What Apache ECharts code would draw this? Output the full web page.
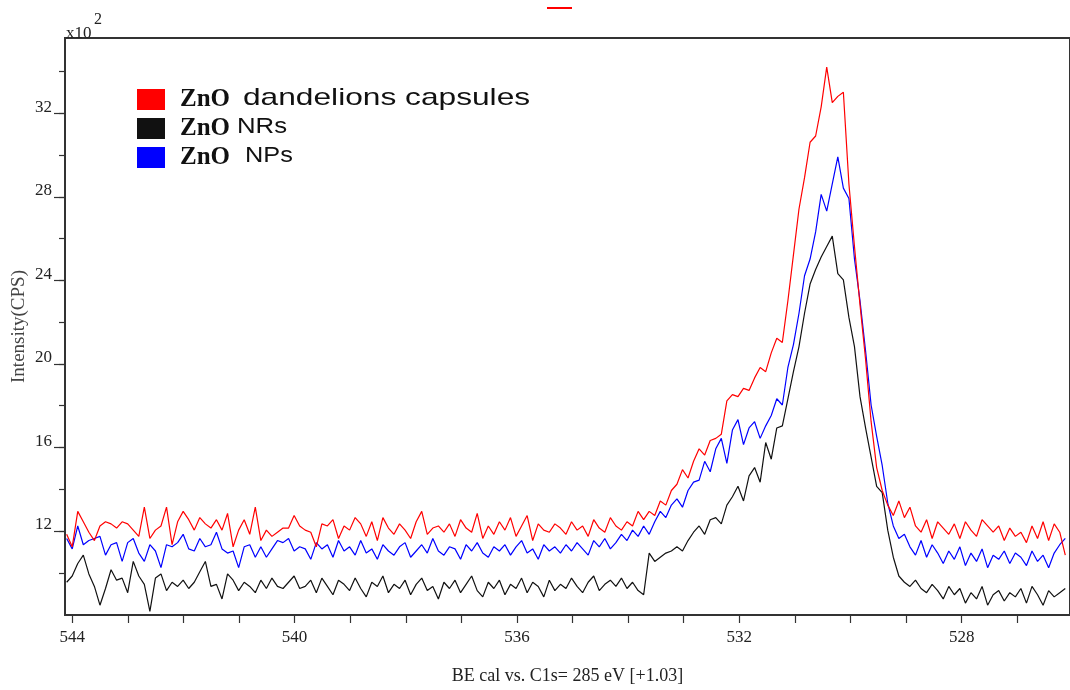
<!DOCTYPE html>
<html>
<head>
<meta charset="utf-8">
<script src="https://cdn.jsdelivr.net/npm/echarts@6/dist/echarts.min.js"></script>
<style>
html,body{margin:0;padding:0;background:#fff;}
#chart{width:1070px;height:690px;}
</style>
</head>
<body>
<div id="chart"></div>
<script>
// Binding energy grid (eV), 0.1 eV steps
const energies = [
544.1,544.0,543.9,543.8,543.7,543.6,543.5,543.4,543.3,543.2,
543.1,543.0,542.9,542.8,542.7,542.6,542.5,542.4,542.3,542.2,
542.1,542.0,541.9,541.8,541.7,541.6,541.5,541.4,541.3,541.2,
541.1,541.0,540.9,540.8,540.7,540.6,540.5,540.4,540.3,540.2,
540.1,540.0,539.9,539.8,539.7,539.6,539.5,539.4,539.3,539.2,
539.1,539.0,538.9,538.8,538.7,538.6,538.5,538.4,538.3,538.2,
538.1,538.0,537.9,537.8,537.7,537.6,537.5,537.4,537.3,537.2,
537.1,537.0,536.9,536.8,536.7,536.6,536.5,536.4,536.3,536.2,
536.1,536.0,535.9,535.8,535.7,535.6,535.5,535.4,535.3,535.2,
535.1,535.0,534.9,534.8,534.7,534.6,534.5,534.4,534.3,534.2,
534.1,534.0,533.9,533.8,533.7,533.6,533.5,533.4,533.3,533.2,
533.1,533.0,532.9,532.8,532.7,532.6,532.5,532.4,532.3,532.2,
532.1,532.0,531.9,531.8,531.7,531.6,531.5,531.4,531.3,531.2,
531.1,531.0,530.9,530.8,530.7,530.6,530.5,530.4,530.3,530.2,
530.1,530.0,529.9,529.8,529.7,529.6,529.5,529.4,529.3,529.2,
529.1,529.0,528.9,528.8,528.7,528.6,528.5,528.4,528.3,528.2,
528.1,528.0,527.9,527.8,527.7,527.6,527.5,527.4,527.3,527.2,
527.1,527.0,526.9,526.8,526.7,526.6,526.5,526.4,526.3,526.2,
526.1];

// Intensity (x10^2 CPS)
const dandelions = [
11.8,11.2,12.9,12.4,11.9,11.5,12.2,12.4,12.3,12.1,
12.4,12.3,12.0,11.7,13.1,11.6,12.0,12.2,13.1,11.3,
12.4,12.9,12.5,12.0,12.6,12.3,12.1,12.5,12.0,12.8,
11.2,12.0,12.5,11.8,13.1,11.5,12.0,11.7,11.9,12.1,
12.1,12.7,12.2,12.0,11.9,11.2,12.3,12.2,12.5,11.6,
12.2,12.0,12.6,12.3,11.7,12.4,11.5,12.6,12.1,11.8,
12.3,12.0,11.6,12.4,12.9,11.8,12.1,12.2,11.9,12.3,
11.7,12.5,12.1,11.9,12.8,11.6,12.2,11.8,12.4,12.0,
12.6,11.7,12.2,12.7,11.5,12.3,12.0,11.9,12.3,12.1,
11.8,12.4,12.0,12.2,11.7,12.5,12.1,11.9,12.6,12.2,
12.0,12.4,12.2,12.9,12.5,12.9,12.7,13.4,13.2,13.9,
14.2,14.9,14.5,15.3,15.9,15.6,16.3,16.4,16.6,18.2,
18.5,18.4,18.8,18.7,19.3,19.8,19.6,20.5,21.2,21.0,
23.0,25.2,27.4,28.9,30.6,30.9,32.3,34.2,32.5,32.8,
33.0,28.6,25.6,22.8,20.2,17.2,15.0,13.9,13.2,12.7,
13.4,12.6,13.1,12.2,11.9,12.5,11.6,12.4,12.1,11.8,
12.3,11.6,12.4,12.0,11.7,12.5,12.2,11.9,12.2,11.5,
12.1,11.7,11.9,11.4,12.2,11.6,12.4,11.5,12.3,11.9,
10.8];

const nanorods = [
9.5,9.8,10.4,10.8,9.9,9.3,8.4,9.2,10.1,9.6,
9.7,9.0,10.5,9.8,9.4,8.1,9.7,9.9,9.1,9.5,
9.3,9.6,9.2,9.5,10.0,10.5,9.3,9.4,8.7,9.9,
9.6,9.1,9.5,9.3,9.0,9.6,9.2,9.7,9.3,9.2,
9.5,9.8,9.2,9.3,9.6,9.0,9.7,9.3,8.9,9.6,
9.4,9.1,9.7,9.2,8.8,9.5,9.3,9.8,9.0,9.4,
9.2,9.6,8.9,9.4,9.7,9.1,9.3,8.7,9.5,9.2,
9.6,9.0,9.4,9.8,9.1,8.8,9.5,9.2,9.6,8.9,
9.4,9.2,9.7,9.0,9.5,9.3,8.8,9.6,9.1,9.4,
9.2,9.7,9.3,9.0,9.5,9.8,9.1,9.4,9.6,9.3,
9.7,9.2,9.5,9.1,8.9,10.9,10.5,10.7,10.9,11.0,
11.2,11.0,11.5,11.9,12.2,11.8,12.5,12.6,12.3,13.2,
13.6,14.1,13.4,14.6,15.0,14.3,16.2,15.4,16.9,17.0,
18.3,19.6,20.8,22.4,23.8,24.5,25.1,25.6,26.1,24.3,
24.0,22.2,20.8,18.4,16.9,15.5,14.1,13.8,12.0,10.7,
9.8,9.5,9.3,9.6,9.2,9.0,9.4,9.1,8.7,9.3,
8.9,9.2,8.5,9.0,8.7,9.3,8.4,8.9,9.1,8.6,
9.0,8.8,9.2,8.5,9.3,8.9,8.4,9.1,8.8,9.0,
9.2];

const nanoparticles = [
11.6,11.1,12.2,11.3,11.5,11.6,11.7,10.8,11.3,11.4,
10.5,11.4,11.6,10.9,10.5,11.3,11.0,10.2,11.3,11.2,
11.4,11.8,11.1,11.0,11.6,11.2,11.3,11.9,11.1,10.9,
11.0,10.2,11.2,11.3,10.7,11.2,10.7,11.1,11.5,11.4,
11.6,11.0,11.2,11.1,10.6,11.4,11.1,11.3,10.7,11.5,
11.0,11.2,10.8,11.5,10.9,11.1,10.6,11.3,11.0,10.8,
11.2,11.4,10.7,11.0,11.3,10.9,11.6,11.0,10.8,11.2,
11.1,10.6,11.3,11.0,11.4,10.9,10.7,11.2,11.0,11.3,
10.8,11.2,11.5,10.9,11.1,10.6,11.3,11.0,11.2,10.9,
11.3,11.0,11.4,11.1,10.8,11.5,11.2,11.6,11.1,11.4,
11.8,11.5,12.0,11.7,12.2,11.8,12.4,12.9,12.6,13.2,
13.5,13.1,13.9,14.3,14.4,15.3,14.8,15.9,16.4,15.2,
16.8,17.3,16.1,16.9,17.2,16.4,17.0,17.5,18.3,18.0,
19.8,20.9,22.4,24.2,25.0,26.3,28.1,27.3,28.6,29.9,
28.4,27.9,25.0,23.0,20.6,18.0,16.5,15.1,13.3,12.2,
11.6,11.8,11.2,10.8,11.5,10.7,11.3,10.9,10.4,11.0,
10.6,11.2,10.3,10.9,10.5,11.1,10.2,10.8,10.6,11.0,
10.4,10.9,10.7,10.3,11.0,10.5,10.8,10.2,10.9,11.3,
11.6];

const seriesNames = ['ZnO dandelions capsules', 'ZnO NRs', 'ZnO NPs'];
const seriesSuffix = ['dandelions capsules', 'NRs', 'NPs'];
const seriesColors = ['#ff0000', '#111111', '#0000ff'];
const xTickMin = 527, xTickMax = 544;           // labelled energy ticks
const yMajorMin = 12, yMajorMax = 32;           // labelled intensity ticks
const yMinorMin = 10, yMinorMax = 34;

const serif = 'Liberation Serif';

// axis extents (data coordinates of plot edges)
const X_MIN = 526.015, X_MAX = 544.13;
const Y_MIN = 7.93, Y_MAX = 35.6;
const PLOT_TOP = 38, PLOT_BOTTOM = 616, PLOT_LEFT = 65, PLOT_RIGHT = 1072;
const ky = (PLOT_BOTTOM - PLOT_TOP) / (Y_MAX - Y_MIN);
const kx = (PLOT_RIGHT - PLOT_LEFT) / (X_MAX - X_MIN);
const yPx = v => PLOT_BOTTOM - (v - Y_MIN) * ky;
const xPx = v => PLOT_LEFT + (X_MAX - v) * kx;
const H = 690, W = 1070;

function pairs(vals) { return energies.map((e, i) => [e, vals[i]]); }

const chart = echarts.init(document.getElementById('chart'), null, {renderer: 'canvas'});

const hiddenX = (gi) => ({type: 'value', gridIndex: gi, show: false, min: 0, max: 1});
const hiddenY = (gi) => ({type: 'value', gridIndex: gi, show: false, min: 0, max: 1});

const option = {
  animation: false,
  backgroundColor: '#fff',
  grid: [
    {left: PLOT_LEFT, right: W - PLOT_RIGHT, top: PLOT_TOP, bottom: H - PLOT_BOTTOM,
     show: true, borderColor: '#333', borderWidth: 2, backgroundColor: 'transparent'},
    {left: xPx(xTickMax), right: W - xPx(xTickMin), top: PLOT_TOP, bottom: H - PLOT_BOTTOM},
    {left: PLOT_LEFT, right: 0, top: yPx(yMinorMax), bottom: H - yPx(yMinorMin)},
    {left: PLOT_LEFT, right: 0, top: yPx(yMajorMax), bottom: H - yPx(yMajorMin)}
  ],
  xAxis: [
    {type: 'value', gridIndex: 0, min: X_MIN, max: X_MAX, inverse: true,
     axisLine: {show: false}, axisTick: {show: false}, axisLabel: {show: false}, splitLine: {show: false},
     name: 'BE cal vs. C1s= 285 eV [+1.03]', nameLocation: 'middle', nameGap: 52,
     nameTextStyle: {fontFamily: serif, fontSize: 18, color: '#222'}},
    {type: 'value', gridIndex: 1, min: xTickMin, max: xTickMax, interval: 1, inverse: true,
     axisLine: {show: false}, splitLine: {show: false},
     axisTick: {show: true, length: 7, lineStyle: {color: '#333', width: 1.2}},
     axisLabel: {show: true, margin: 13, fontFamily: serif, fontSize: 17, color: '#222',
       formatter: v => (Math.round(v) % 4 === 0 ? String(Math.round(v)) : '')}},
    hiddenX(2),
    hiddenX(3)
  ],
  yAxis: [
    {type: 'value', gridIndex: 0, min: Y_MIN, max: Y_MAX,
     axisLine: {show: false}, axisTick: {show: false}, axisLabel: {show: false}, splitLine: {show: false},
     name: 'Intensity(CPS)', nameLocation: 'middle', nameGap: 36,
     nameTextStyle: {fontFamily: serif, fontSize: 19, color: '#444'}},
    hiddenY(1),
    {type: 'value', gridIndex: 2, min: yMinorMin, max: yMinorMax, interval: 2,
     axisLine: {show: false}, splitLine: {show: false}, axisLabel: {show: false},
     axisTick: {show: true, length: 6, lineStyle: {color: '#333', width: 1.2}}},
    {type: 'value', gridIndex: 3, min: yMajorMin, max: yMajorMax, interval: 4,
     axisLine: {show: false}, splitLine: {show: false},
     axisTick: {show: true, length: 11, lineStyle: {color: '#333', width: 1.2}},
     axisLabel: {show: true, margin: 13, fontFamily: serif, fontSize: 17, color: '#222',
       verticalAlign: 'bottom', lineHeight: 12}}
  ],
  legend: {
    orient: 'vertical', left: 137, top: 87, padding: 0,
    itemWidth: 28, itemHeight: 21, itemGap: 4, icon: 'rect',
    data: seriesNames,
    formatter: () => '{z|ZnO}',
    textStyle: {rich: {z: {fontFamily: serif, fontWeight: 'bold', fontSize: 25, color: '#111',
      lineHeight: 21, padding: [0, 0, 0, 10]}}}
  },
  graphic: [
    {type: 'text', left: 66, top: 25, style: {text: 'x10', font: '17px "Liberation Serif"', fill: '#222'}},
    {type: 'text', left: 94, top: 12, style: {text: '2', font: '16px "Liberation Serif"', fill: '#222'}},
    {type: 'text', x: 243, y: 98, scaleX: 1.32,
     style: {text: seriesSuffix[0], x: 0, y: 0, font: '24px "Liberation Sans"', fill: '#111', align: 'left', verticalAlign: 'middle'}},
    {type: 'text', x: 237, y: 126.5, scaleX: 1.17,
     style: {text: seriesSuffix[1], x: 0, y: 0, font: '22px "Liberation Sans"', fill: '#111', align: 'left', verticalAlign: 'middle'}},
    {type: 'text', x: 245, y: 155.5, scaleX: 1.15,
     style: {text: seriesSuffix[2], x: 0, y: 0, font: '22px "Liberation Sans"', fill: '#111', align: 'left', verticalAlign: 'middle'}},
    {type: 'line', shape: {x1: 547, y1: 8, x2: 572, y2: 8}, style: {stroke: '#ff0000', lineWidth: 2}}
  ],
  series: [
    {name: seriesNames[1], type: 'line', xAxisIndex: 0, yAxisIndex: 0, data: pairs(nanorods),
     showSymbol: false, symbol: 'none', color: seriesColors[1], itemStyle: {color: seriesColors[1]},
     lineStyle: {color: seriesColors[1], width: 1.2}, z: 3},
    {name: seriesNames[2], type: 'line', xAxisIndex: 0, yAxisIndex: 0, data: pairs(nanoparticles),
     showSymbol: false, symbol: 'none', color: seriesColors[2], itemStyle: {color: seriesColors[2]},
     lineStyle: {color: seriesColors[2], width: 1.2}, z: 4},
    {name: seriesNames[0], type: 'line', xAxisIndex: 0, yAxisIndex: 0, data: pairs(dandelions),
     showSymbol: false, symbol: 'none', color: seriesColors[0], itemStyle: {color: seriesColors[0]},
     lineStyle: {color: seriesColors[0], width: 1.2}, z: 5}
  ]
};
chart.setOption(option);
</script>
</body>
</html>
